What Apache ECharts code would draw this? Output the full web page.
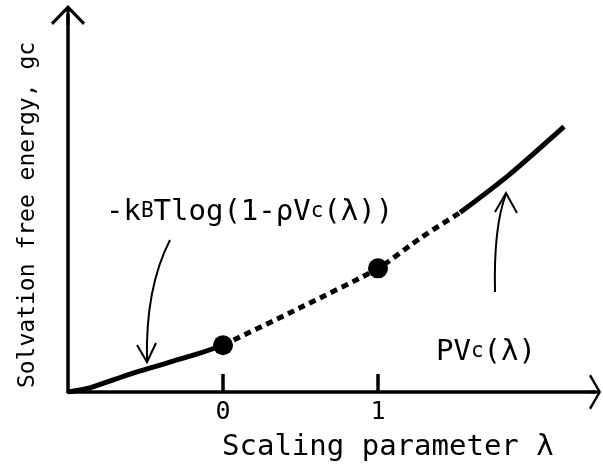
<!DOCTYPE html>
<html>
<head>
<meta charset="utf-8">
<script src="https://cdn.jsdelivr.net/npm/echarts@6/dist/echarts.min.js"></script>
<style>
  html, body { margin: 0; padding: 0; background: #fff; }
  #chart { width: 603px; height: 472px; }
</style>
</head>
<body>
<div id="chart"></div>
<script>
;(function(){
  // values: [lambda, free energy]
  var leftCurve = [[-1, 0], [-0.86, 0.11], [-0.58, 0.50], [-0.15, 1.03], [0, 1.24]];
  var middleCurve = [[0, 1.24], [0.5, 2.24], [1, 3.28], [1.28, 4.10], [1.53, 4.76]];
  var rightCurve = [[1.53, 4.76], [1.84, 5.74], [2.2, 7.04]];
  var markedPoints = [[0, 1.24], [1, 3.28]];
  var lambdaTicks = [0, 1];

  var font = '"DejaVu Sans Mono", monospace';
  var chart = echarts.init(document.getElementById('chart'));

  var option = {
    backgroundColor: '#fff',
    animation: false,
    grid: { left: 68, right: 8, top: 15, bottom: 80 },
    xAxis: {
      type: 'value',
      min: -1,
      max: 2.4,
      splitLine: { show: false },
      axisLine: {
        onZero: true,
        symbol: ['none', 'path://M17.5,0 L35,10 L33.5,12 L19,3.5 L19,12 L16,12 L16,3.5 L1.5,12 L0,10 Z'],
        symbolSize: [35, 12],
        lineStyle: { color: '#000', width: 3.5 }
      },
      axisTick: {
        inside: true,
        length: 18,
        customValues: lambdaTicks,
        lineStyle: { color: '#000', width: 3.5 }
      },
      axisLabel: {
        customValues: lambdaTicks,
        margin: 8,
        color: '#000',
        fontSize: 25,
        fontFamily: font
      }
    },
    yAxis: {
      type: 'value',
      min: 0,
      max: 10,
      splitLine: { show: false },
      axisTick: { show: false },
      axisLabel: { show: false },
      axisLine: {
        onZero: false,
        symbol: ['none', 'path://M17,0 L34,17.5 L32,20 L18.5,6 L18.5,20 L15.5,20 L15.5,6 L2,20 L0,17.5 Z'],
        symbolSize: [34, 20],
        lineStyle: { color: '#000', width: 3.5 }
      }
    },
    series: [
      {
        type: 'line', data: leftCurve, smooth: 0.25, showSymbol: false,
        lineStyle: { color: '#000', width: 5 }
      },
      {
        type: 'line', data: middleCurve, smooth: 0.25, showSymbol: false,
        lineStyle: { color: '#000', width: 5, type: [7, 5] }
      },
      {
        type: 'line', data: rightCurve, smooth: 0.25, showSymbol: false,
        lineStyle: { color: '#000', width: 5 }
      },
      {
        type: 'scatter', data: markedPoints, symbolSize: 20,
        itemStyle: { color: '#000', opacity: 1 }, z: 5
      }
    ],
    graphic: [
      {
        type: 'text', rotation: Math.PI / 2,
        x: 28, y: 215,
        style: {
          text: 'Solvation free energy, gc', font: '23px ' + font, fill: '#000',
          align: 'center', verticalAlign: 'middle'
        }
      },
      {
        type: 'text', x: 222, y: 447,
        style: {
          text: 'Scaling parameter λ', font: '29px ' + font, fill: '#000',
          align: 'left', verticalAlign: 'middle'
        }
      },
      {
        type: 'text', x: 106, y: 212,
        style: {
          text: '{t|-k}{s|B}{t|Tlog(1-ρV}{s|c}{t|(λ))}',
          verticalAlign: 'middle',
          rich: {
            t: { fontSize: 29, fontFamily: font, fill: '#000' },
            s: { fontSize: 21, fontFamily: font, fill: '#000' }
          }
        }
      },
      {
        type: 'text', x: 436, y: 352,
        style: {
          text: '{t|PV}{s|c}{t|(λ)}',
          verticalAlign: 'middle',
          rich: {
            t: { fontSize: 29, fontFamily: font, fill: '#000' },
            s: { fontSize: 21, fontFamily: font, fill: '#000' }
          }
        }
      },
      {
        type: 'bezierCurve',
        shape: { x1: 170, y1: 240, cpx1: 152, cpy1: 275, cpx2: 146, cpy2: 320, x2: 147, y2: 361 },
        style: { stroke: '#000', lineWidth: 2, fill: null }
      },
      {
        type: 'polyline',
        shape: { points: [[137, 345], [147, 362], [156, 343]] },
        style: { stroke: '#000', lineWidth: 2, fill: null }
      },
      {
        type: 'bezierCurve',
        shape: { x1: 495, y1: 292, cpx1: 494, cpy1: 250, cpx2: 498, cpy2: 215, x2: 506, y2: 194 },
        style: { stroke: '#000', lineWidth: 2, fill: null }
      },
      {
        type: 'polyline',
        shape: { points: [[495, 212], [506, 193], [517, 213]] },
        style: { stroke: '#000', lineWidth: 2, fill: null }
      }
    ]
  };
  chart.setOption(option);
})();
</script>
</body>
</html>
